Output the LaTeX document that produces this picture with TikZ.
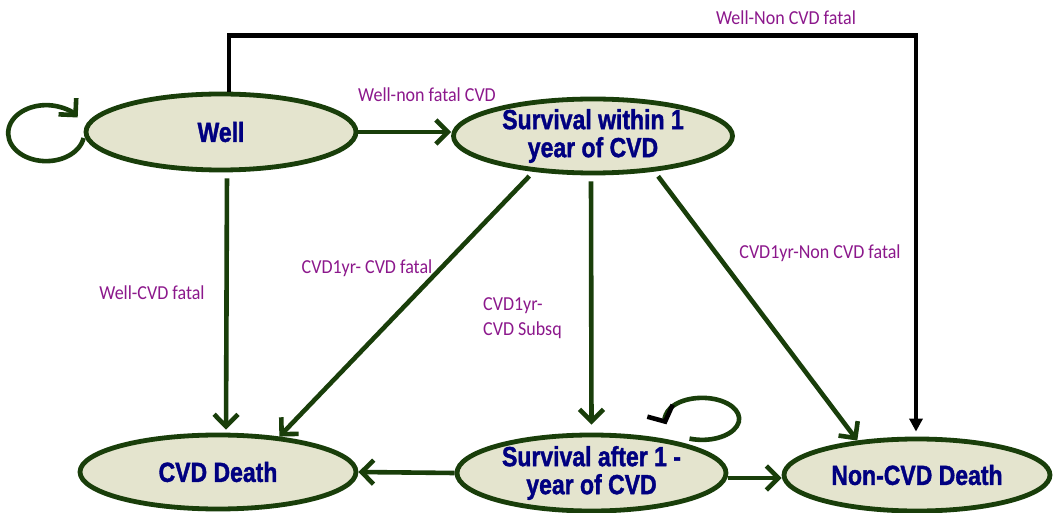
\documentclass[tikz,border=0pt]{standalone}
\usepackage{fontspec}
\setmainfont{Liberation Sans}
\newfontfamily\lblfont{Carlito}
\newfontfamily\statefont{Liberation Sans Bold}[FakeBold=1.6]
\usetikzlibrary{arrows.meta,shapes.geometric}
\definecolor{edgegreen}{RGB}{25,62,10}
\definecolor{statefill}{RGB}{228,228,206}
\definecolor{navytext}{RGB}{0,0,128}
\definecolor{lblpurple}{RGB}{140,24,140}
\newcommand\tx[1]{\scalebox{1}[1.2]{#1}}
\newcommand\lt[1]{\scalebox{1}[1.1]{#1}}
\begin{document}
\begin{tikzpicture}[x=1pt,y=-1pt,
  state/.style={ellipse,draw=edgegreen,line width=4.8pt,fill=statefill,inner sep=-4pt,
    text=navytext,font=\statefont\fontsize{23}{28}\selectfont,align=center},
  edge/.style={draw=edgegreen,line width=4.6pt,-{Straight Barb[length=12pt,width=24pt]}},
  blk/.style={draw=black,line width=4.4pt,-{Triangle[length=13pt,width=13pt]}},
  lbl/.style={text=lblpurple,font=\lblfont\fontsize{18}{25}\selectfont,inner sep=0pt}]
\fill[white] (0,0) rectangle (1053,513);
\useasboundingbox (0,0) rectangle (1053,513);
% states
\node[state,minimum width=270pt,minimum height=76pt] (well) at (221,132) {\tx{Well}};
\node[state,minimum width=279pt,minimum height=74pt] (s1) at (593,136) {\tx{Survival within 1}\\\tx{year of CVD}};
\node[state,minimum width=276pt,minimum height=74pt] (cvd) at (218,472) {\tx{CVD Death}};
\node[state,minimum width=269pt,minimum height=76pt] (s2) at (591.5,473) {\tx{Survival after 1 -}\\\tx{year of CVD}};
\node[state,minimum width=266pt,minimum height=72pt] (nc) at (917,475) {\tx{Non-CVD Death}};
% labels
\node[lbl] (l1) at (427,95) {\lt{Well-non fatal CVD}};
\node[lbl] (l2) at (786,18) {\lt{Well-Non CVD fatal}};
\node[lbl] (l3) at (152,293) {\lt{Well-CVD fatal}};
\node[lbl] (l4) at (367,268) {\lt{CVD1yr- CVD fatal}};
\node[lbl,align=left,anchor=west] (l5) at (483,318) {\lt{CVD1yr-}\\\lt{CVD Subsq}};
\node[lbl] (l6) at (820,253) {\lt{CVD1yr-Non CVD fatal}};
% connectors
\draw[edge] (well.east) -- (well.east -| s1.west);
\draw[edge,shorten <=6pt,shorten >=3pt] ([xshift=6pt]well.south) -- ([xshift=8pt]cvd.north);
\draw[edge,shorten <=6pt] (s1.211) -- (cvd.30);
\draw[edge,shorten <=6pt,shorten >=8pt] ([xshift=-2pt]s1.south) -- (s2.north);
\draw[edge,shorten <=6pt] (s1.330) -- (nc.150);
\draw[edge] (s2.west) -- (cvd.east);
\draw[edge] ([yshift=-5pt]s2.east) -- ([yshift=-5pt]s2.east -| nc.west);
\draw[blk,shorten >=5pt] ([xshift=8pt]well.north) -- ++(0,-56) -| ([xshift=-1pt]nc.north);
% self loops
\draw[edge] ([yshift=-6pt]well.west) arc[start angle=-10,end angle=-326,x radius=38pt,y radius=28pt];
\draw[draw=edgegreen,line width=4.6pt,-{Straight Barb[length=12pt,width=28pt,black]}]
  ([xshift=98pt,yshift=-6pt]s2.north) arc[start angle=-110,end angle=195,x radius=37pt,y radius=21pt];
\end{tikzpicture}
\end{document}
